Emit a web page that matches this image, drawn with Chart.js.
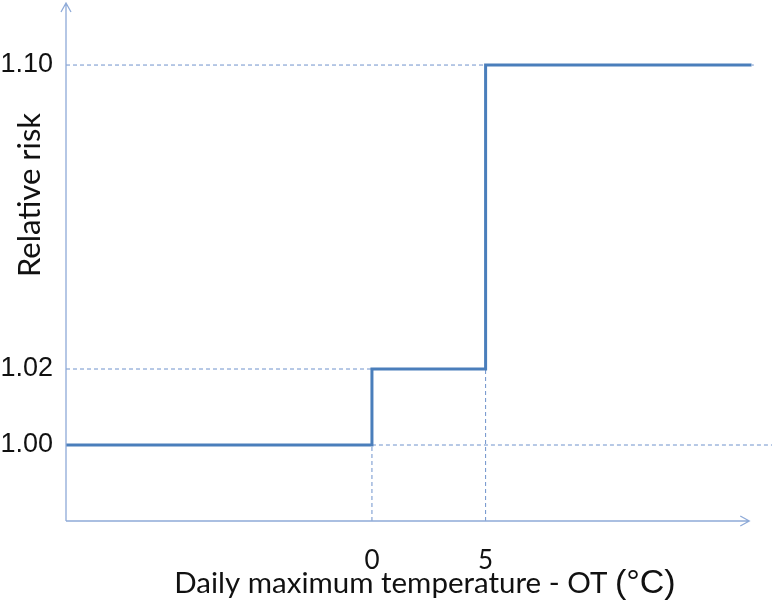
<!DOCTYPE html>
<html>
<head>
<meta charset="utf-8">
<script src="https://cdn.jsdelivr.net/npm/chart.js@4.4.1/dist/chart.umd.min.js"></script>
<style>
  body { margin: 0; background: #fff; }
  #wrap { width: 774px; height: 611px; }
</style>
</head>
<body>
<div id="wrap"><canvas id="myChart"></canvas></div>
<script>
// data
const thresholds = [0, 5];              // OT offsets where risk steps up
const riskLevels = [1.00, 1.02, 1.10];  // relative risk on each step
const yTicks = [1.00, 1.02, 1.10];
const xTicks = [0, 5];
const xRange = [-13.46, 17.6];
const yRange = [0.98, 1.1158];
const lineEnd = 16.7;   // where the step line stops
const axisEnd = 16.6;   // x-axis arrow tip

const lineColor = '#4a7ebb';
const guideColor = '#6f92cc';
const axisColor = '#8eaad8';

// step line: stepped 'before' = horizontal run, then jump at each threshold
const stepData = [{ x: xRange[0], y: riskLevels[0] }];
thresholds.forEach((t, i) => stepData.push({ x: t, y: riskLevels[i + 1] }));
stepData.push({ x: lineEnd, y: riskLevels[riskLevels.length - 1] });

function guide(points) {
    return {
        data: points,
        borderColor: guideColor,
        borderWidth: 1,
        borderDash: [4, 3],
        pointRadius: 0,
        order: 2
    };
}

const guides = [
    guide([{ x: xRange[0], y: riskLevels[2] }, { x: lineEnd + 0.1, y: riskLevels[2] }]),
    guide([{ x: xRange[0], y: riskLevels[1] }, { x: thresholds[0], y: riskLevels[1] }]),
    guide([{ x: thresholds[0], y: riskLevels[0] }, { x: xRange[1], y: riskLevels[0] }]),
    guide([{ x: thresholds[0], y: yRange[0] }, { x: thresholds[0], y: riskLevels[0] }]),
    guide([{ x: thresholds[1], y: yRange[0] }, { x: thresholds[1], y: riskLevels[1] }])
];

// axes with arrow heads + titles
const axesPlugin = {
    id: 'axesPlugin',
    afterDraw(chart) {
        const ctx = chart.ctx;
        const a = chart.chartArea;
        const xs = chart.scales.x;
        const x0 = a.left, y0 = a.bottom;
        const xTip = xs.getPixelForValue(axisEnd);
        const yTip = a.top - 2;
        ctx.save();
        ctx.strokeStyle = axisColor;
        ctx.lineWidth = 1.3;
        ctx.beginPath();
        ctx.moveTo(x0, y0);
        ctx.lineTo(x0, yTip);
        ctx.moveTo(x0 - 5, yTip + 9);
        ctx.lineTo(x0, yTip);
        ctx.lineTo(x0 + 5, yTip + 9);
        ctx.moveTo(x0, y0);
        ctx.lineTo(xTip, y0);
        ctx.moveTo(xTip - 9, y0 - 5);
        ctx.lineTo(xTip, y0);
        ctx.lineTo(xTip - 9, y0 + 5);
        ctx.stroke();

        // x title
        ctx.fillStyle = '#111';
        ctx.textBaseline = 'alphabetic';
        const t1 = 'Daily maximum temperature - OT ';
        const t2 = '(°C)';
        const f1 = '29.5px Lato';
        const f2 = '34px "Liberation Sans"';
        ctx.font = f1;
        const w1 = ctx.measureText(t1).width;
        ctx.font = f2;
        const w2 = ctx.measureText(t2).width;
        const cx = (a.left + a.right) / 2 + 6;
        const start = cx - (w1 + w2) / 2;
        ctx.font = f1;
        ctx.textAlign = 'left';
        ctx.fillText(t1, start, y0 + 72);
        ctx.font = f2;
        ctx.fillText(t2, start + w1, y0 + 72);

        // y title
        ctx.translate(40, 195);
        ctx.rotate(-Math.PI / 2);
        ctx.textAlign = 'center';
        ctx.font = '31px Lato';
        ctx.fillText('Relative risk', 0, 0);
        ctx.restore();
    }
};

new Chart(document.getElementById('myChart'), {
    type: 'line',
    data: {
        datasets: [
            {
                data: stepData,
                stepped: 'before',
                borderColor: lineColor,
                borderWidth: 3,
                pointRadius: 0,
                order: 1
            },
            ...guides
        ]
    },
    options: {
        responsive: true,
        maintainAspectRatio: false,
        animation: false,
        layout: { autoPadding: false, padding: { top: 5, right: 2, left: 0, bottom: 0 } },
        plugins: { legend: { display: false }, tooltip: { enabled: false } },
        scales: {
            x: {
                type: 'linear',
                min: xRange[0],
                max: xRange[1],
                grid: { display: false, drawTicks: false },
                border: { display: false },
                afterBuildTicks: s => { s.ticks = xTicks.map(v => ({ value: v })); },
                afterFit: s => {
                    s.height = 90;
                    s.paddingLeft = 0;
                    s.paddingRight = 0;
                },
                ticks: {
                    color: '#111',
                    font: { family: 'Lato', size: 26 },
                    padding: 24,
                    maxRotation: 0
                }
            },
            y: {
                min: yRange[0],
                max: yRange[1],
                grid: { display: false, drawTicks: false },
                border: { display: false },
                afterBuildTicks: s => { s.ticks = yTicks.map(v => ({ value: v })); },
                afterFit: s => {
                    s.width = 66;
                    s.paddingTop = 0;
                    s.paddingBottom = 0;
                },
                ticks: {
                    color: '#111',
                    font: { family: 'Liberation Sans', size: 27 },
                    padding: 13,
                    callback: v => v.toFixed(2)
                }
            }
        }
    },
    plugins: [axesPlugin]
});
</script>
</body>
</html>
